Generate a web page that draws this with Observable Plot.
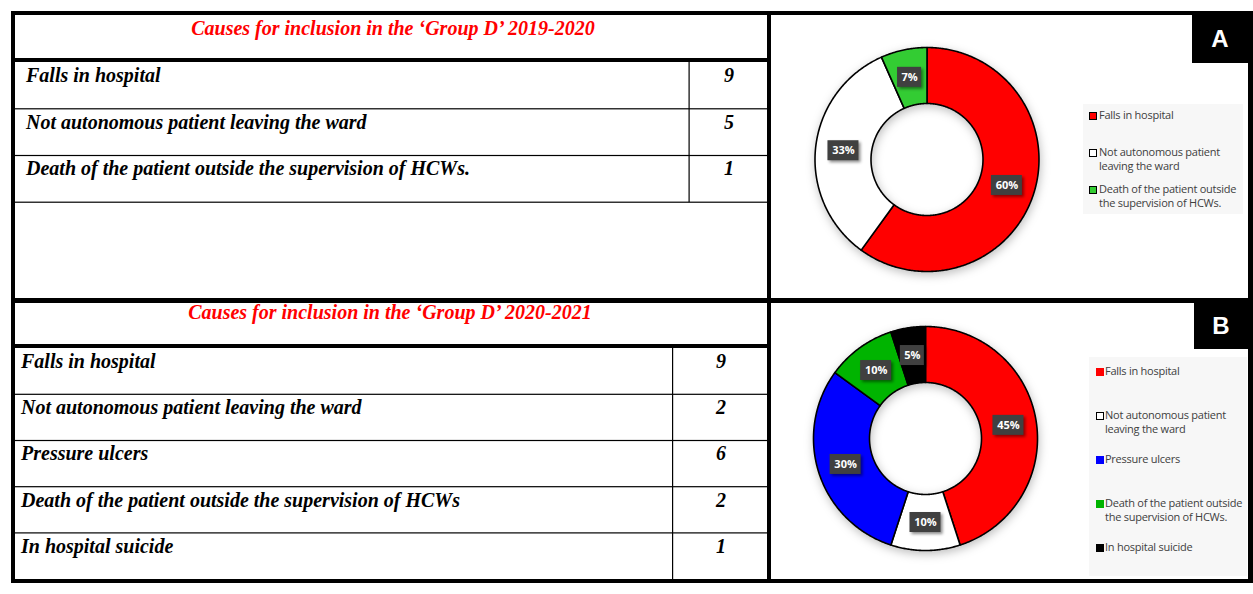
<!DOCTYPE html>
<html><head><meta charset="utf-8">
<script src="https://cdn.jsdelivr.net/npm/d3@7"></script>
<script src="https://cdn.jsdelivr.net/npm/@observablehq/plot@0.6"></script>
<style>
body{margin:0;background:#fff;}
#fig{position:relative;width:1253px;height:594px;overflow:hidden;background:#fff;}
.panel{position:absolute;}
.tag{position:absolute;background:#000;color:#fff;font-family:"Liberation Sans",Arial,sans-serif;font-weight:bold;font-size:24px;display:flex;align-items:center;justify-content:center;}
.legend{position:absolute;background:#f7f7f7;}
.item{position:absolute;font-family:"Open Sans",sans-serif;font-size:11px;line-height:14px;color:#404040;letter-spacing:-0.25px;}
.sw{position:absolute;width:6px;height:6px;border:1px solid #000;}
</style>
</head><body>
<div id="fig"></div>
<script>
// ---------- data ----------
const titleA = "Causes for inclusion in the \u2018Group D\u2019 2019-2020";
const causesA = ["Falls in hospital", "Not autonomous patient leaving the ward", "Death of the patient outside the supervision of HCWs."];
const countsA = [9, 5, 1];
const legendA = ["Falls in hospital", "Not autonomous patient leaving the ward", "Death of the patient outside the supervision of HCWs."];
const colorsA = ["#ff0000", "#ffffff", "#33cc33"];

const titleB = "Causes for inclusion in the \u2018Group D\u2019 2020-2021";
const causesB = ["Falls in hospital", "Not autonomous patient leaving the ward", "Pressure ulcers", "Death of the patient outside the supervision of HCWs", "In hospital suicide"];
const countsB = [9, 2, 6, 2, 1];
const legendB = ["Falls in hospital", "Not autonomous patient leaving the ward", "Pressure ulcers", "Death of the patient outside the supervision of HCWs.", "In hospital suicide"];
const colorsB = ["#ff0000", "#ffffff", "#0000ff", "#00b400", "#000000"];

const panelTags = ["A", "B"];

// ---------- frame + tables ----------
const fig = d3.select("#fig");
const svg = fig.append("svg").attr("width", 1253).attr("height", 594)
  .style("position", "absolute").style("left", 0).style("top", 0);
function bar(x, y, w, h) { svg.append("rect").attr("x", x).attr("y", y).attr("width", w).attr("height", h).attr("fill", "#000"); }

const serif = "'Liberation Serif','Times New Roman',serif";
function table(title, causes, counts, o) {
  svg.append("text").attr("x", o.titleX).attr("y", o.titleY).attr("text-anchor", "middle")
    .attr("font-family", serif).attr("font-weight", "bold").attr("font-style", "italic")
    .attr("font-size", 20).attr("fill", "#ff0000").text(title);
  bar(15, o.ruleY, 752, 4);
  const top = o.ruleY + 4;
  causes.forEach((c, i) => {
    const y0 = top + i * o.rowH;
    svg.append("text").attr("x", o.textX).attr("y", y0 + 20)
      .attr("font-family", serif).attr("font-weight", "bold").attr("font-style", "italic")
      .attr("font-size", 20).attr("fill", "#000").text(c);
    svg.append("text").attr("x", o.numX).attr("y", y0 + 20).attr("text-anchor", "middle")
      .attr("font-family", serif).attr("font-weight", "bold").attr("font-style", "italic")
      .attr("font-size", 20).attr("fill", "#000").text(counts[i]);
    if (o.lastRule || i < causes.length - 1)
      svg.append("rect").attr("x", 15).attr("y", y0 + o.rowH - 0.5).attr("width", 752).attr("height", 1.2).attr("fill", "#000");
  });
  svg.append("rect").attr("x", o.colX).attr("y", top).attr("width", 1.2)
    .attr("height", causes.length * o.rowH).attr("fill", "#000");
}
table(titleA, causesA, countsA, {titleX: 393, titleY: 35, ruleY: 58, rowH: 46.7, textX: 26, numX: 729, colX: 688.5, lastRule: true});
table(titleB, causesB, countsB, {titleX: 390, titleY: 319, ruleY: 344, rowH: 46.2, textX: 21, numX: 721, colX: 672, lastRule: false});

// outer frame and dividers
bar(11, 11, 1242, 4);
bar(11, 579, 1242, 4);
bar(11, 11, 4, 572);
bar(1248, 11, 5, 572);
bar(767, 11, 4, 572);
bar(11, 298, 1242, 5);

// ---------- donuts ----------
const PX = 112; // pixels per unit radius
function donut(counts, colors, causes, w, h, cx, cy) {
  const total = d3.sum(counts);
  const arcs = d3.pie().sort(null)(counts);
  const R = 1, r0 = 0.5;
  const pts = [];
  arcs.forEach((a, i) => {
    const n = Math.max(4, Math.ceil((a.endAngle - a.startAngle) / 0.01));
    for (let k = 0; k <= n; k++) {
      const t = a.startAngle + (a.endAngle - a.startAngle) * k / n;
      pts.push({cause: causes[i], color: colors[i], x: R * Math.sin(t), y: R * Math.cos(t)});
    }
    for (let k = n; k >= 0; k--) {
      const t = a.startAngle + (a.endAngle - a.startAngle) * k / n;
      pts.push({cause: causes[i], color: colors[i], x: r0 * Math.sin(t), y: r0 * Math.cos(t)});
    }
  });
  const rm = (R + r0) / 2;
  const labels = arcs.map((a, i) => {
    const m = (a.startAngle + a.endAngle) / 2;
    const text = Math.round(counts[i] / total * 100) + "%";
    const bw = (10 + 7 * text.length) / PX, bh = 20 / PX;
    return {x: rm * Math.sin(m), y: rm * Math.cos(m), text, bw, bh};
  });
  const plot = Plot.plot({
    width: w, height: h, margin: 0,
    x: {domain: [-cx / PX, (w - cx) / PX], axis: null},
    y: {domain: [-(h - cy) / PX, cy / PX], axis: null},
    color: {type: "identity"},
    marks: [
      Plot.line(pts, {x: "x", y: "y", z: "cause", fill: "color", stroke: "#000", strokeWidth: 1.6, curve: "linear-closed"}),
      Plot.rect(labels, {x1: d => d.x - d.bw / 2, x2: d => d.x + d.bw / 2, y1: d => d.y - d.bh / 2, y2: d => d.y + d.bh / 2, fill: "#404040"}),
      Plot.text(labels, {x: "x", y: "y", text: "text", fill: "#fff", fontSize: 11, fontWeight: "bold", fontFamily: "'Open Sans',sans-serif"})
    ]
  });
  const lg = plot.querySelector('g[aria-label="line"]');
  if (lg) lg.style.filter = "drop-shadow(1px 3px 5px rgba(0,0,0,0.25))";
  const rg = plot.querySelector('g[aria-label="rect"]');
  if (rg) rg.style.filter = "drop-shadow(2px 2px 1.5px rgba(0,0,0,0.45))";
  return plot;
}

function panel(counts, colors, causes, legend, tag, o) {
  const div = fig.append("div").attr("class", "panel")
    .style("left", o.left + "px").style("top", o.top + "px")
    .style("width", o.w + "px").style("height", o.h + "px");
  div.node().appendChild(donut(counts, colors, causes, o.w, o.h, o.cx, o.cy));
  const lgd = fig.append("div").attr("class", "legend")
    .style("left", o.lgL + "px").style("top", o.lgT + "px")
    .style("width", o.lgW + "px").style("height", o.lgH + "px");
  legend.forEach((t, i) => {
    lgd.append("div").attr("class", "item")
      .style("left", (o.txL - o.lgL) + "px").style("top", (o.pad + i * o.slot) + "px")
      .style("width", "142px").text(t);
    lgd.append("div").attr("class", "sw")
      .style("left", (o.swL - o.lgL) + "px").style("top", (o.pad + i * o.slot + 3.5) + "px")
      .style("background", colors[i])
      .style("border-color", o.swBorder ? "#000" : (colors[i] === "#ffffff" ? "#000" : colors[i]));
  });
  fig.append("div").attr("class", "tag")
    .style("left", o.tagL + "px").style("top", o.tagT + "px")
    .style("width", o.tagW + "px").style("height", o.tagH + "px").text(tag);
}

panel(countsA, colorsA, causesA, legendA, panelTags[0], {
  left: 771, top: 15, w: 477, h: 283, cx: 155.5, cy: 144,
  lgL: 1083, lgT: 104, lgW: 160, lgH: 110, pad: 4, slot: 37, swL: 1089, txL: 1099, swBorder: true,
  tagL: 1192, tagT: 15, tagW: 56, tagH: 48
});
panel(countsB, colorsB, causesB, legendB, panelTags[1], {
  left: 771, top: 303, w: 477, h: 276, cx: 154, cy: 135,
  lgL: 1089, lgT: 357, lgW: 158, lgH: 219, pad: 7, slot: 44, swL: 1096, txL: 1105, swBorder: false,
  tagL: 1194, tagT: 303, tagW: 54, tagH: 46
});
</script>
</body></html>
